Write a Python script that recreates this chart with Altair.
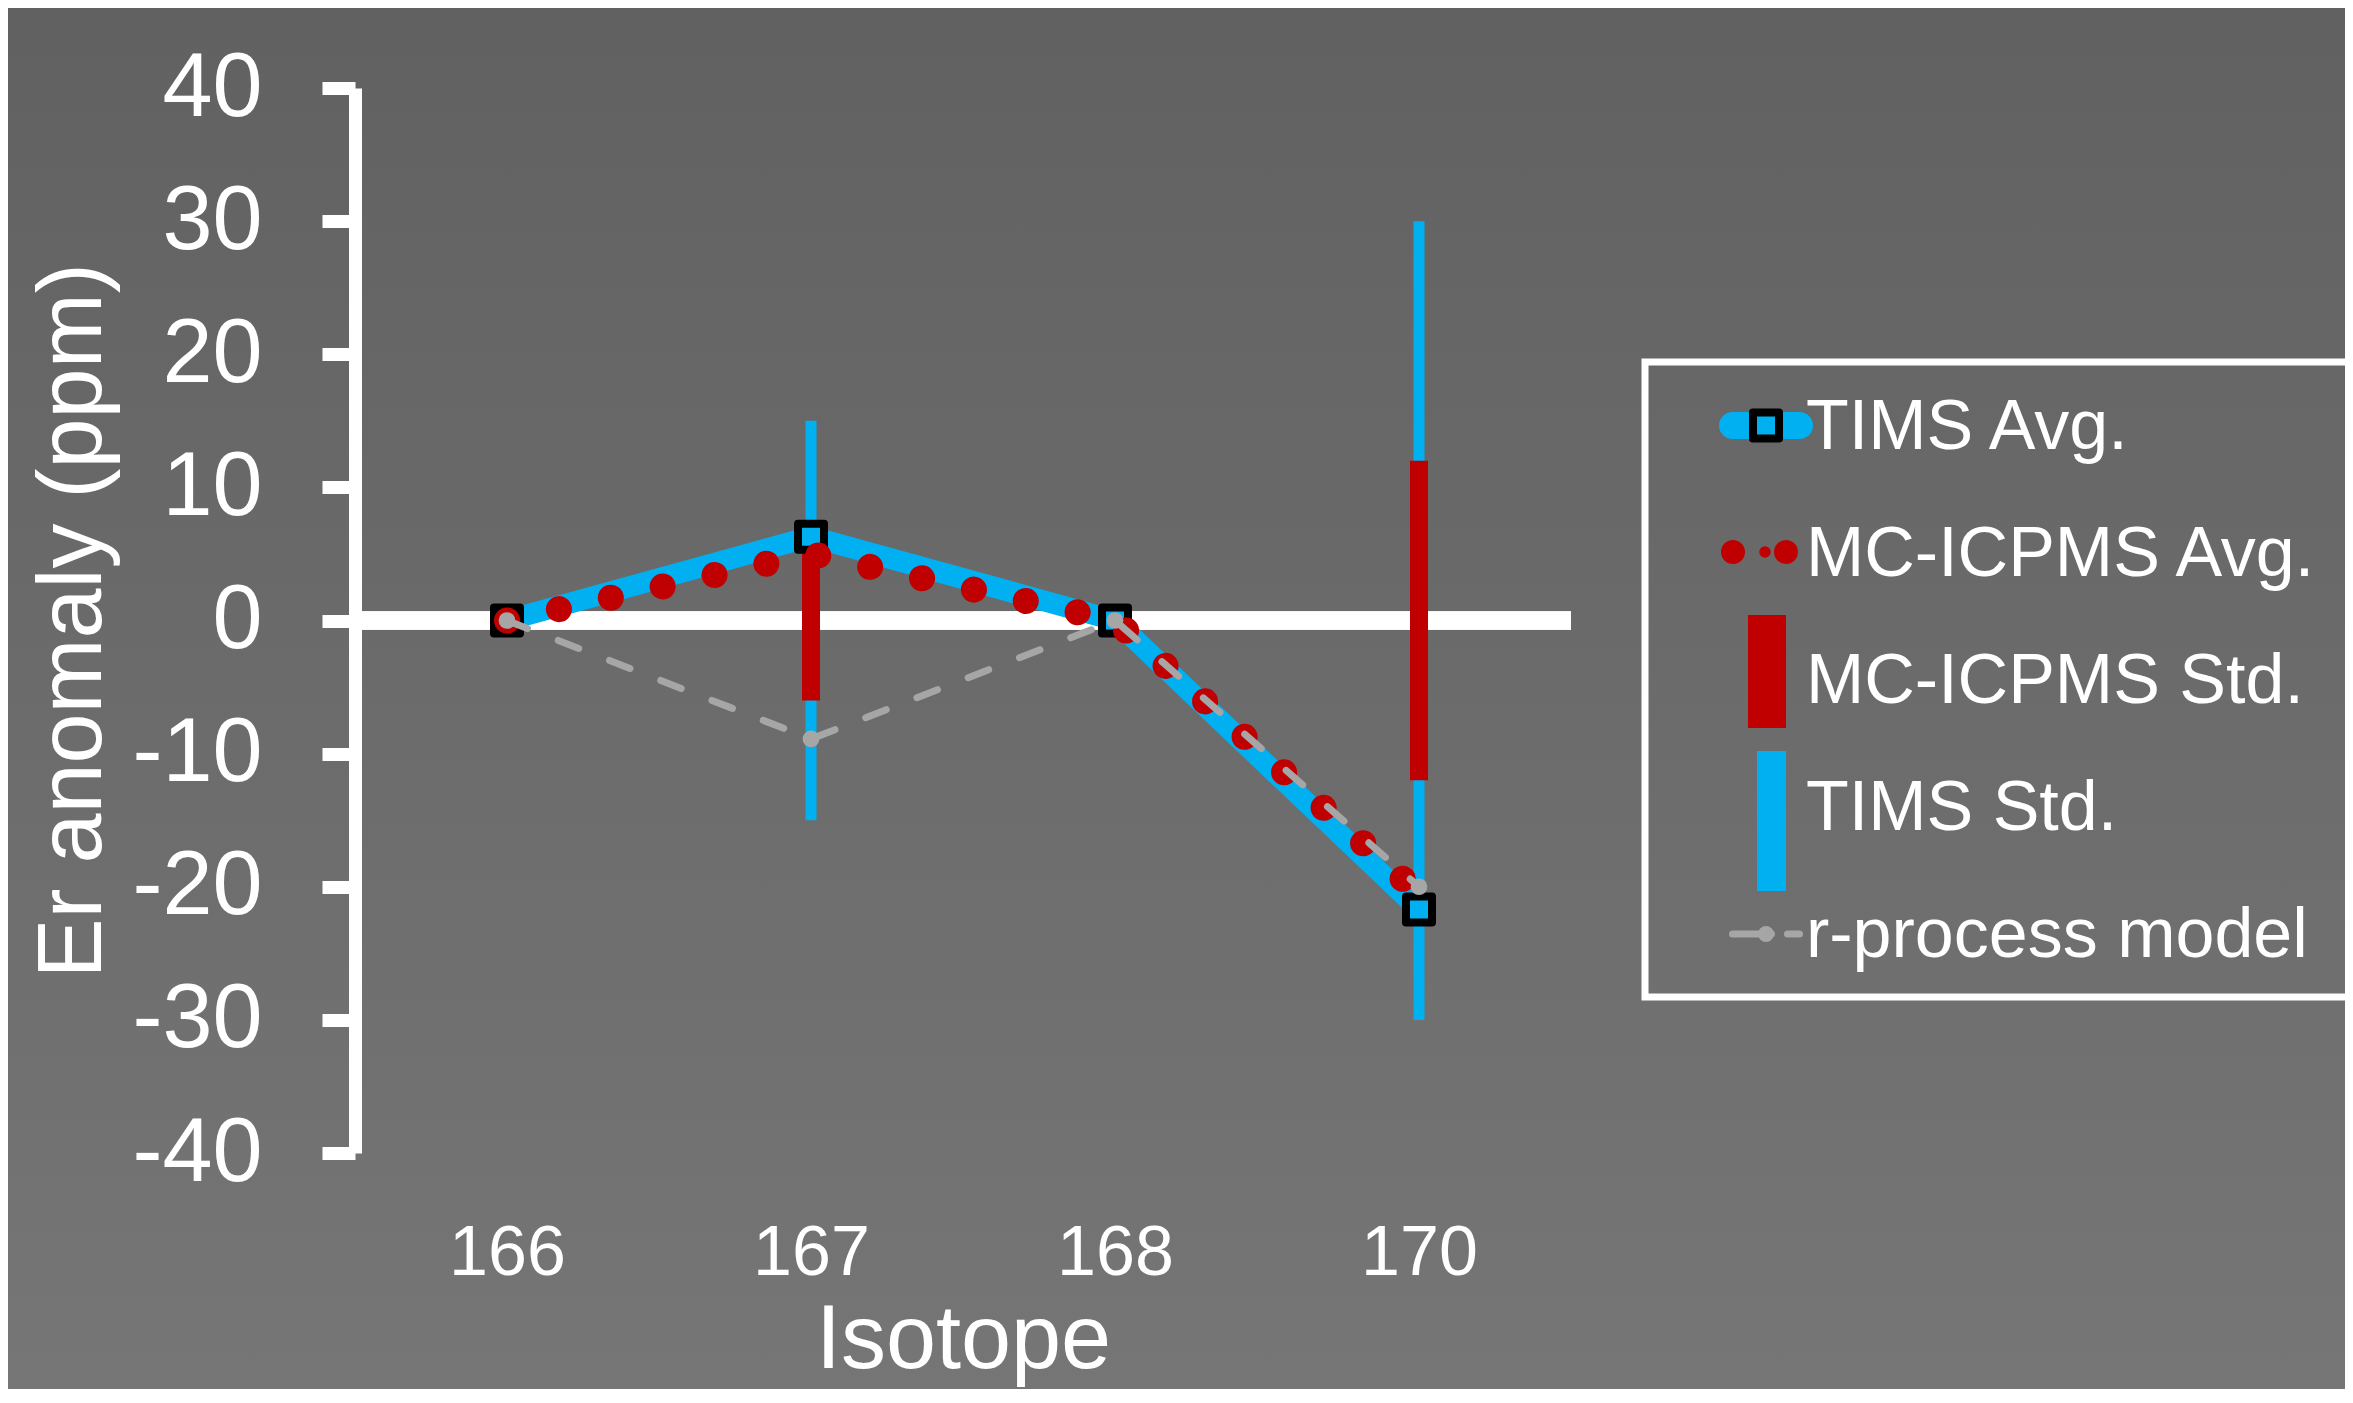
import altair as alt
import pandas as pd

# ---- data ----
isotopes = ["166", "167", "168", "170"]
tims_avg = [0.0, 6.3, 0.0, -21.7]
mc_avg = [0.0, 5.0, 0.0, -20.5]
r_model = [0.0, -8.9, 0.0, -20.0]

std_isotopes = ["167", "170"]
tims_std = [15.0, 30.0]
mc_std = [6.0, 12.0]

legend_labels = ["TIMS Avg.", "MC-ICPMS Avg.", "MC-ICPMS Std.", "TIMS Std.", "r-process model"]
y_ticks = [-40, -30, -20, -10, 0, 10, 20, 30, 40]

BLUE = "#00B0F0"
RED = "#C00000"
GRAY = "#A6A6A6"
FONT = "Liberation Sans"

W, H = 1216, 1065

df = pd.DataFrame({"iso": isotopes, "tims": tims_avg, "mc": mc_avg, "rp": r_model})
sd = pd.DataFrame({
    "iso": std_isotopes,
    "t_lo": [-v for v in tims_std], "t_hi": tims_std,
    "m_lo": [-v for v in mc_std], "m_hi": mc_std,
})

xs = alt.Scale(type="point", domain=isotopes, padding=0.5)
ys = alt.Scale(domain=[-40, 40], nice=False, zero=False)

x_axis = alt.Axis(
    labelFont=FONT, labelFontSize=70, labelColor="white", labelAngle=0,
    labelPadding=66, ticks=False, tickSize=0, domain=False, grid=False,
    title="Isotope", titleFont=FONT, titleFontSize=90, titleColor="white",
    titleFontWeight="normal", titleX=W / 2, titleY=214, titleBaseline="alphabetic",
    zindex=2,
)
y_axis = alt.Axis(
    values=y_ticks, labelExpr="'' + datum.value",
    labelFont=FONT, labelFontSize=90, labelColor="white",
    labelPadding=60, tickSize=33, tickWidth=13, tickColor="white", tickCap="butt",
    domainColor="white", domainWidth=13, domainCap="butt", grid=False,
    title="Er anomaly (ppm)", titleFont=FONT, titleFontSize=90, titleColor="white",
    titleFontWeight="normal", titleX=-255, titleY=H / 2, titleBaseline="alphabetic",
    titleAngle=270, titleAlign="center", zindex=2,
)

X = alt.X("iso:N", scale=xs, axis=x_axis, sort=isotopes)

one = pd.DataFrame({"k": [0]})

# background gradient (decoration only)
bg = alt.Chart(one).mark_rect(
    color=alt.LinearGradient(
        gradient="linear", x1=0, x2=0, y1=0, y2=1,
        stops=[alt.GradientStop(color="#616161", offset=0),
               alt.GradientStop(color="#767676", offset=1)],
    )
).encode(x=alt.value(-360), x2=alt.value(2100), y=alt.value(-90), y2=alt.value(1330))

zero = alt.Chart(df).mark_rule(color="white", strokeWidth=18).encode(
    y=alt.datum(0, scale=ys, axis=y_axis, type="quantitative")
)

tims_line = alt.Chart(df).mark_line(
    color=BLUE, strokeWidth=21, strokeCap="round", strokeJoin="round"
).encode(x=X, y=alt.Y("tims:Q", scale=ys, axis=y_axis))

tims_err = alt.Chart(sd).mark_rule(color=BLUE, strokeWidth=11).encode(
    x=X, y=alt.Y("t_lo:Q", scale=ys, axis=y_axis), y2="t_hi:Q"
)
mc_err = alt.Chart(sd).mark_rule(color=RED, strokeWidth=18).encode(
    x=X, y=alt.Y("m_lo:Q", scale=ys, axis=y_axis), y2="m_hi:Q"
)

tims_pts = alt.Chart(df).mark_point(
    shape="square", size=676, filled=True, fill=BLUE, stroke="black",
    strokeWidth=8, opacity=1, fillOpacity=1, strokeJoin="round"
).encode(x=X, y=alt.Y("tims:Q", scale=ys, axis=y_axis))

mc_line = alt.Chart(df).mark_line(
    color=RED, strokeWidth=26, strokeDash=[0.1, 53], strokeCap="round"
).encode(x=X, y=alt.Y("mc:Q", scale=ys, axis=y_axis))

rp_line = alt.Chart(df).mark_line(
    color=GRAY, strokeWidth=7, strokeDash=[22, 33], strokeCap="round"
).encode(x=X, y=alt.Y("rp:Q", scale=ys, axis=y_axis))

rp_pts = alt.Chart(df).mark_circle(color=GRAY, size=280, opacity=1).encode(
    x=X, y=alt.Y("rp:Q", scale=ys, axis=y_axis)
)

# ---- legend (drawn manually) ----
leg = []
leg.append(alt.Chart(one).mark_rect(fillOpacity=0, stroke="white", strokeWidth=7).encode(
    x=alt.value(1290), x2=alt.value(2100), y=alt.value(274), y2=alt.value(909)))
# TIMS Avg.
leg.append(alt.Chart(one).mark_rule(color=BLUE, strokeWidth=27, strokeCap="round").encode(
    x=alt.value(1377.5), x2=alt.value(1444.5), y=alt.value(337.5)))
leg.append(alt.Chart(one).mark_point(
    shape="square", size=676, filled=True, fill=BLUE, stroke="black", strokeWidth=8,
    opacity=1, strokeJoin="round").encode(x=alt.value(1411), y=alt.value(337.5)))
# MC-ICPMS Avg.
for cx, sz in [(1378, 573), (1431, 573), (1410, 133)]:
    leg.append(alt.Chart(one).mark_circle(color=RED, size=sz, opacity=1).encode(
        x=alt.value(cx), y=alt.value(464)))
# MC-ICPMS Std.
leg.append(alt.Chart(one).mark_rect(color=RED).encode(
    x=alt.value(1393), x2=alt.value(1431), y=alt.value(527), y2=alt.value(640)))
# TIMS Std.
leg.append(alt.Chart(one).mark_rect(color=BLUE).encode(
    x=alt.value(1402), x2=alt.value(1431), y=alt.value(663), y2=alt.value(803)))
# r-process model
leg.append(alt.Chart(one).mark_rule(color=GRAY, strokeWidth=7, strokeCap="round").encode(
    x=alt.value(1377.5), x2=alt.value(1416.5), y=alt.value(846)))
leg.append(alt.Chart(one).mark_rule(color=GRAY, strokeWidth=7, strokeCap="round").encode(
    x=alt.value(1432.5), x2=alt.value(1444.5), y=alt.value(846)))
leg.append(alt.Chart(one).mark_circle(color=GRAY, size=254, opacity=1).encode(
    x=alt.value(1411), y=alt.value(846)))
# labels
for i, lab in enumerate(legend_labels):
    leg.append(alt.Chart(one).mark_text(
        text=lab, font=FONT, fontSize=70, color="white", align="left", baseline="alphabetic"
    ).encode(x=alt.value(1451), y=alt.value(361 + 127 * i)))

chart = alt.layer(
    bg, zero, tims_line, tims_err, mc_err, tims_pts, mc_line, rp_line, rp_pts, *leg
).properties(
    width=W, height=H,
    autosize=alt.AutoSizeParams(type="none"),
    padding={"left": 347, "top": 80, "right": 774, "bottom": 236},
    background="#6a6a6a",
).configure_view(stroke=None)

chart.save("out.html", embed_options={"renderer": "svg", "actions": False})
